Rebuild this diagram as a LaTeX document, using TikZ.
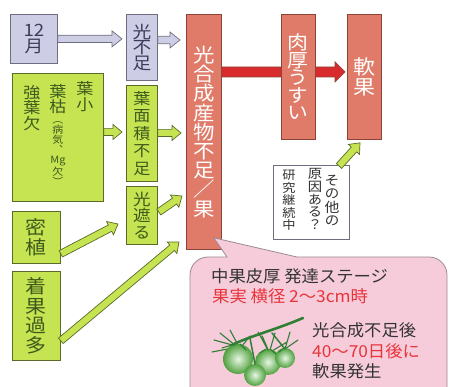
\documentclass[tikz,border=0pt]{standalone}
\usepackage{fontspec}
\newfontfamily\jp[FakeStretch=1.05]{Noto Sans CJK JP}
\newfontfamily\jpv[RawFeature=+vert, FakeStretch=1.1]{Noto Sans CJK JP}
\usepackage{tikz}
\usetikzlibrary{positioning, calc, backgrounds}

\definecolor{lavfill}{HTML}{CDCDE6}
\definecolor{lavline}{HTML}{6E6E80}
\definecolor{lavtext}{HTML}{3C3C5A}
\definecolor{leaffill}{HTML}{C6E352}
\definecolor{leafline}{HTML}{5A6A2A}
\definecolor{leaftext}{HTML}{3E5A1C}
\definecolor{fruitfill}{HTML}{E07B69}
\definecolor{fruitline}{HTML}{8C4436}
\definecolor{redarrow}{HTML}{D92B2E}
\definecolor{calloutfill}{HTML}{F6CCDA}
\definecolor{calloutline}{HTML}{9C8A94}
\definecolor{redtext}{HTML}{E8333A}
\definecolor{darktext}{HTML}{333333}
\definecolor{stemgreen}{HTML}{2F7F35}
\definecolor{tomatogreen}{HTML}{62C84C}

\tikzset{
  vt/.style 2 args={font=\jpv\fontsize{#1}{#2}\selectfont},
  ht/.style={font=\jp\fontsize{#1}{#1}\selectfont, anchor=west, inner sep=0pt},
  box/.style={draw, line width=0.8pt, anchor=north west, inner sep=0pt, align=center},
  lav/.style={box, fill=lavfill, draw=lavline, text=lavtext},
  leaf/.style={box, fill=leaffill, draw=leafline, text=leaftext},
  fruit/.style={box, fill=fruitfill, draw=fruitline, text=white},
  col/.style={anchor=north, inner sep=0pt, align=center},
  arrowsize/.code args={#1/#2/#3}{\def\fashaft{#1}\def\fahead{#2}\def\falen{#3}},
  lavarrow/.style={fill=lavfill, draw=lavline, line width=0.7pt, arrowsize=3.7pt/8pt/10pt},
  leafarrow/.style={fill=leaffill, draw=leafline, line width=0.7pt, arrowsize=3.6pt/7.5pt/9pt},
  redfat/.style={fill=redarrow, draw=fruitline, line width=0.7pt, arrowsize=5pt/10pt/10pt},
  sepal/.style={draw=stemgreen, line width=1.1pt, line cap=round},
  tomato/.style={inner color=white!85!tomatogreen, outer color=tomatogreen!80!black},
}

% block arrow from #2 to #3
\newcommand\fatarrow[3]{%
  \path[#1] ($(#3)!\falen!(#2)$) coordinate (fa-base);
  \filldraw[#1] ($(#2)!\fashaft!90:(#3)$) -- ($(fa-base)!\fashaft!90:(#3)$)
    -- ($(fa-base)!\fahead!90:(#3)$) -- (#3) -- ($(fa-base)!\fahead!-90:(#3)$)
    -- ($(fa-base)!\fashaft!-90:(#3)$) -- ($(#2)!\fashaft!-90:(#3)$) -- cycle;}

\begin{document}
\begin{tikzpicture}[x=1pt, y=-1pt]
  \useasboundingbox (0,0) rectangle (450,387);

  % causes
  \node[lav, minimum width=47pt, minimum height=49pt, vt={17}{15.5}] (dec) at (10,14) {12\\月};
  \node[leaf, minimum width=91pt, minimum height=128pt] (leaves) at (12,73) {};
  \node[col, text=leaftext, vt={15.5}{16}] (leafsmall) at (85,81) {葉\\小};
  \node[col, text=leaftext, vt={15.5}{15.5}] (leafdead) at (58,84) {葉\\枯};
  \node[col, text=leaftext, vt={10}{10}] (leafnote) at (58,121) {（\\病\\気\\、\\Mg\\欠\\）};
  \node[col, text=leaftext, vt={15.5}{15.5}] (leafcut) at (32,85) {強\\葉\\欠};
  \node[leaf, minimum width=48pt, minimum height=52pt, vt={19}{20}] (dense) at (12,211) {密\\植};
  \node[leaf, minimum width=48pt, minimum height=89pt, vt={19}{19.5}] (heavy) at (12,271) {着\\果\\過\\多};

  \node[lav, minimum width=31pt, minimum height=66pt, vt={17}{15.5}] (light) at (126,14) {光\\不\\足};
  \node[leaf, minimum width=31pt, minimum height=96pt, vt={15.5}{17.4}] (area) at (126,85) {葉\\面\\積\\不\\足};
  \node[leaf, minimum width=31pt, minimum height=58pt, vt={16}{16.5}] (shade) at (126,186) {光\\遮\\る};

  % result chain
  \node[fruit, minimum width=35pt, minimum height=235pt, vt={19.5}{19.2}] (lack) at (186,14) {光\\合\\成\\産\\物\\不\\足\\／\\果};
  \node[fruit, minimum width=34pt, minimum height=125pt, vt={19}{17.5}] (thin) at (281,14) {肉\\厚\\う\\す\\い};
  \node[fruit, minimum width=34pt, minimum height=125pt, vt={20}{19.5}] (soft) at (347,14) {軟\\果};

  \node[box, draw=lavline, fill=white, minimum width=76pt, minimum height=74pt] (other) at (273,165) {};
  \node[col, text=darktext, vt={13.5}{13.5}] (otherq) at (332,175) {そ\\の\\他\\の};
  \node[col, text=darktext, vt={13}{12.8}] (othercause) at (315,168) {原\\因\\あ\\る\\？};
  \node[col, text=darktext, vt={12}{12.5}] (otherstudy) at (289,170) {研\\究\\継\\続\\中};

  % arrow ends
  \coordinate (decout) at (dec.east);
  \coordinate (decin) at ([xshift=-4pt]dec.east -| light.west);
  \coordinate (lightout) at ([yshift=-26pt]light.north east);
  \coordinate (lightin) at ([xshift=-6pt]lightout -| lack.west);
  \coordinate (leavesout) at ([yshift=-59pt]leaves.north east);
  \coordinate (leavesin) at ([xshift=-4pt]leavesout -| area.west);
  \coordinate (areaout) at ([yshift=-48pt]area.north east);
  \coordinate (areain) at ([xshift=-5pt]areaout -| lack.west);
  \coordinate (shadeout) at ([xshift=1pt, yshift=-26pt]shade.north east);
  \coordinate (shadein) at (182,196);
  \coordinate (denseout) at ([yshift=10pt]dense.south east);
  \coordinate (densein) at (118,224);
  \coordinate (heavyout) at ([yshift=20pt]heavy.south east);
  \coordinate (heavyin) at (179,242);
  \coordinate (otherout) at (339,166);
  \coordinate (otherin) at ([xshift=13pt, yshift=-3pt]soft.south west);
  \coordinate (redout) at ([yshift=-58pt]lack.north east);
  \coordinate (redin) at ([xshift=-2pt]redout -| soft.west);

  \fatarrow{lavarrow}{decout}{decin}
  \fatarrow{lavarrow}{lightout}{lightin}
  \fatarrow{leafarrow}{leavesout}{leavesin}
  \fatarrow{leafarrow}{areaout}{areain}
  \fatarrow{leafarrow}{shadeout}{shadein}
  \fatarrow{leafarrow}{denseout}{densein}
  \fatarrow{leafarrow}{heavyout}{heavyin}
  \fatarrow{leafarrow}{otherout}{otherin}
  \begin{scope}[on background layer]
    \fatarrow{redfat}{redout}{redin}
  \end{scope}

  % callout with the stage note
  \coordinate (tip) at ([xshift=-8pt, yshift=12pt]lack.south east);
  \draw[calloutline, fill=calloutfill, line width=0.8pt]
    (190,400) [rounded corners=18pt] -- (190,257) [sharp corners] -- (227,257) -- (tip)
    -- (297,257) [rounded corners=18pt] -- (447,257) -- (447,400);

  \node[ht=16.5, text=darktext] (stage) at (211,276) {中果皮厚 発達ステージ};
  \node[ht=16.5, text=redtext] (size) at (212,296) {果実 横径 2～3cm時};
  \node[ht=16.5, text=darktext] (after) at (312,330) {光合成不足後};
  \node[ht=16.5, text=redtext] (days) at (312,351) {40～70日後に};
  \node[ht=16.5, text=darktext] (onset) at (312,371) {軟果発生};

  % tomato truss
  \draw[sepal] (236,346) -- (214,340) (236,346) -- (220,333) (238,345) -- (230,330)
    (242,346) -- (250,336) (233,348) -- (212,352);
  \draw[sepal] (268,350) -- (258,332) (270,350) -- (275,333) (272,351) -- (287,342)
    (285,349) -- (298,340) (285,349) -- (290,332);
  \shade[tomato] (238,359) circle (15);
  \shade[tomato] (268,362) circle (13);
  \shade[tomato] (285,358) circle (10);
  \shade[tomato] (255,375) circle (11);
  \draw[stemgreen, line width=2.6pt, line cap=round]
    (232,345) .. controls (250,336) and (275,330) .. (303,318);
  \draw[stemgreen, line width=1.5pt, line cap=round]
    (262,336) -- (268,350) (272,333) -- (285,349) (250,338) -- (255,364);
  \draw[sepal] (232,345) -- (222,348) (240,344) -- (246,350) (266,349) -- (260,353)
    (270,349) -- (276,354) (284,348) -- (279,352);
\end{tikzpicture}
\end{document}
